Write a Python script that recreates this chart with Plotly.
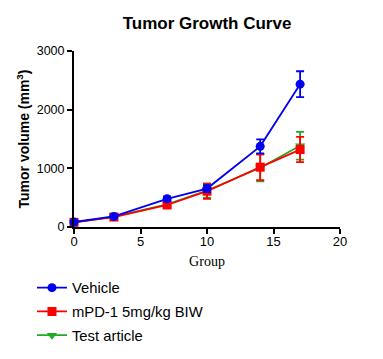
import plotly.graph_objects as go

days = [0, 3, 7, 10, 14, 17]
vehicle = [85, 180, 480, 655, 1375, 2435]
vehicle_err = [20, 30, 40, 60, 120, 220]
mpd1 = [80, 170, 375, 610, 1020, 1320]
mpd1_err = [20, 30, 50, 130, 220, 215]
test_article = [80, 175, 385, 620, 1010, 1385]
test_err = [20, 30, 45, 120, 230, 235]

names = ["Vehicle", "mPD-1 5mg/kg BIW", "Test article"]
colors = ["#0000EE", "#FF0000", "#22AA22"]
symbols = ["circle", "square", "triangle-down"]

fig = go.Figure()
series = [(test_article, test_err, 2), (mpd1, mpd1_err, 1), (vehicle, vehicle_err, 0)]
for ys, es, i in series:
    fig.add_trace(go.Scatter(
        x=days, y=ys, name=names[i], mode="lines+markers",
        line=dict(color=colors[i], width=1.8),
        marker=dict(color=colors[i], symbol=symbols[i], size=9),
        error_y=dict(type="data", array=es, color=colors[i], thickness=1.8, width=4),
        legendrank=i + 1, legendgroup="g%d" % i, cliponaxis=False,
    ))

fig.update_layout(
    width=383, height=359,
    margin=dict(l=66, r=51, t=43, b=140, autoexpand=False),
    paper_bgcolor="white", plot_bgcolor="white",
    title=dict(text="<b>Tumor Growth Curve</b>", xref="paper", x=0.5, xanchor="center", y=0.958, yanchor="middle",
               font=dict(family="Arial", size=17, color="black")),
    showlegend=True,
    legend=dict(x=-0.158, y=-0.253, xanchor="left", yanchor="top",
                font=dict(family="Arial", size=14.8, color="black"),
                bgcolor="rgba(0,0,0,0)", traceorder="grouped", tracegroupgap=1.5, itemwidth=30),
    font=dict(family="Arial", color="black"),
)
fig.update_xaxes(range=[0, 20], tickvals=[0, 5, 10, 15, 20], showline=True, linecolor="black", linewidth=2,
                 ticks="outside", tickwidth=2, ticklen=5, tickcolor="black", showgrid=False, zeroline=False,
                 tickprefix="<b>", ticksuffix="</b>", automargin=False, ticklabelstandoff=-4,
                 tickfont=dict(family="Arial", size=13, color="black"),
                 title=dict(text="Group", font=dict(family="Times New Roman, Liberation Serif", size=14, color="black"), standoff=9))
fig.update_yaxes(range=[0, 3000], tickvals=[0, 1000, 2000, 3000], showline=True, linecolor="black", linewidth=2,
                 ticks="outside", tickwidth=2, ticklen=5, tickcolor="black", showgrid=False, zeroline=False,
                 tickprefix="<b>", ticksuffix="</b>", automargin=False,
                 tickfont=dict(family="Arial", size=12.5, color="black"),
                 title=dict(text="<b>Tumor volume (mm<sup>3</sup>)</b>", font=dict(family="Arial", size=14, color="black"), standoff=4))

fig.write_html("out.html")
